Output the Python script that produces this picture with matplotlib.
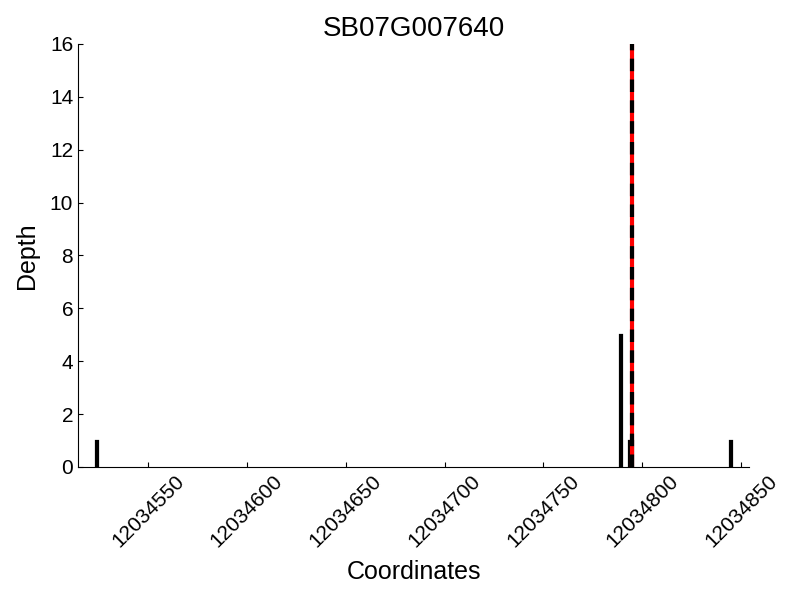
import matplotlib
matplotlib.use("Agg")
import matplotlib.pyplot as plt

plt.rcParams['font.family'] = ['Liberation Sans', 'DejaVu Sans']

# depth per coordinate
coords = [12034524, 12034789, 12034794, 12034795, 12034845]
depth = [1, 5, 1, 1, 1]
snp_pos = 12034795
gene = "SB07G007640"
xticks = [12034550, 12034600, 12034650, 12034700, 12034750, 12034800, 12034850]

fig = plt.figure(figsize=(8, 6), dpi=100)
ax = fig.add_axes([0.0975, 0.2217, 0.8388, 0.705])

ax.bar(coords, depth, width=1, color='#555555', edgecolor='black', linewidth=1.6)
ax.axvline(snp_pos, color='red', lw=3)
ax.axvline(snp_pos, color='black', lw=3, ls='--', dashes=(3, 2))

ax.set_xlim(12034514.6, 12034854)
ax.set_ylim(0, 16)
ax.set_yticks(range(0, 17, 2))
ax.set_xticks(xticks)
ax.set_xticklabels([str(t) for t in xticks], rotation=45)

ax.spines['top'].set_visible(False)
ax.spines['right'].set_visible(False)
ax.tick_params(direction='in', labelsize=15, top=False, right=False)

ax.set_title(gene, fontsize=20)
ax.set_xlabel("Coordinates", fontsize=18, labelpad=6)
ax.set_ylabel("Depth", fontsize=18, labelpad=8)

fig.savefig("out.png", dpi=100)
